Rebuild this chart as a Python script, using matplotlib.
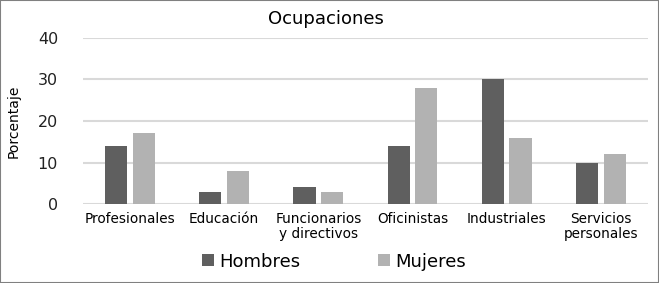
import numpy as np
import matplotlib.pyplot as plt
from matplotlib.patches import Rectangle

categorias = ['Profesionales', 'Educación', 'Funcionarios\ny directivos',
              'Oficinistas', 'Industriales', 'Servicios\npersonales']
hombres = [14, 3, 4, 14, 30, 10]
mujeres = [17, 8, 3, 28, 16, 12]

fig = plt.figure(figsize=(6.59, 2.83), dpi=100)
ax = fig.add_axes([0.126, 0.279, 0.857, 0.587])

x = np.arange(len(categorias))
w = 0.235
ax.bar(x - w/2 - 0.03, hombres, w, color='#5f5f5f', label='Hombres', zorder=3)
ax.bar(x + w/2 + 0.03, mujeres, w, color='#b2b2b2', label='Mujeres', zorder=3)

ax.set_xlim(-0.5, len(categorias) - 0.5)
ax.set_ylim(0, 40)
ax.set_yticks([0, 10, 20, 30, 40])
ax.yaxis.grid(True, color='#d9d9d9', linewidth=1.5, zorder=0)
ax.set_axisbelow(True)
for s in ax.spines.values():
    s.set_visible(False)
ax.tick_params(axis='both', length=0)
ax.tick_params(axis='y', labelsize=11.5, pad=18, colors='#222222')
ax.tick_params(axis='x', labelsize=9.8, pad=6)
ax.set_xticks(x)
ax.set_xticklabels(categorias, linespacing=1.1)
ax.set_ylabel('Porcentaje', fontsize=10, labelpad=12)
ax.set_title('Ocupaciones', fontsize=13, pad=10, x=0.43)

ax.legend(loc='upper center', bbox_to_anchor=(0.445, -0.195), ncol=2, frameon=False,
          fontsize=13, handlelength=0.65, handleheight=0.65, columnspacing=4.3,
          handletextpad=0.3)

fig.patches.append(Rectangle((0, 0), 1, 1, transform=fig.transFigure, fill=False,
                             edgecolor='#808080', linewidth=1.5))

fig.savefig('out.png', dpi=100)
